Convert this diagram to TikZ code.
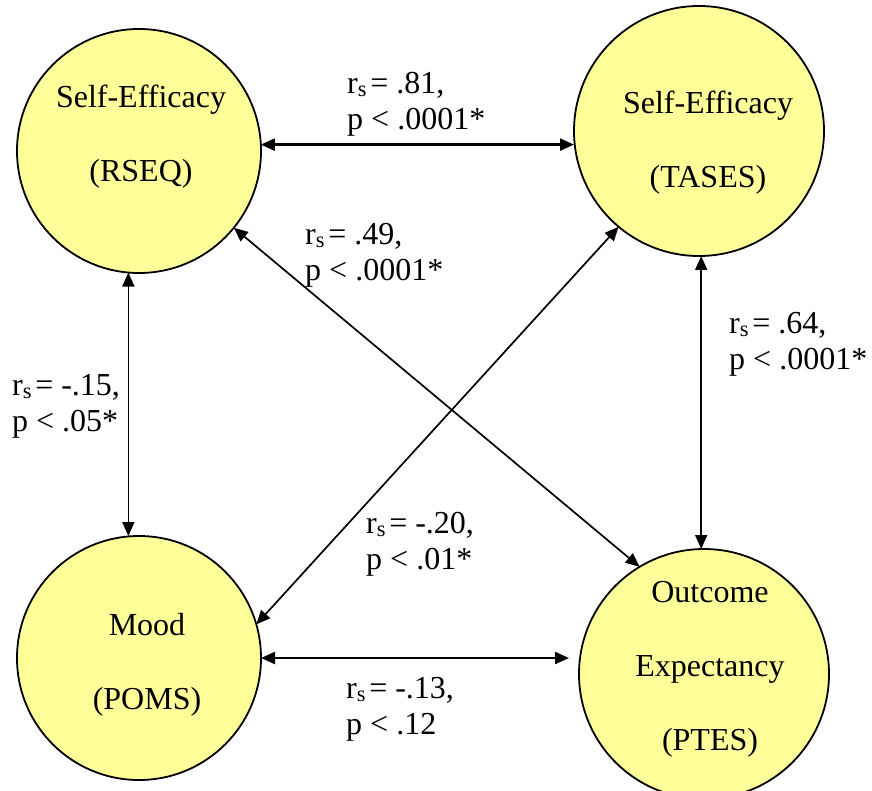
\documentclass[tikz,border=0pt]{standalone}
\usepackage{fontspec}
\setmainfont{Liberation Serif}
\usetikzlibrary{arrows.meta}
\definecolor{constructfill}{HTML}{FFFF99}
\newcommand{\rsub}{r\textsubscript{s}\hspace{0.1em}=}
\tikzset{
  construct/.style={circle, draw=black, line width=1.8pt, fill=constructfill,
    inner sep=0pt, outer sep=0pt, minimum size=#1},
  conname/.style={anchor=base, inner sep=0pt, font=\fontsize{32}{74}\selectfont},
  stat/.style={anchor=base west, inner sep=0pt, font=\fontsize{32}{36}\selectfont},
  corr/.style={{Triangle[length=14pt,width=12pt]}-{Triangle[length=14pt,width=12pt]},
    line width=1.7pt},
  corrbold/.style={corr, line width=2.3pt},
}
\begin{document}
\begin{tikzpicture}[x=1pt, y=-1pt]
\useasboundingbox (0,0) rectangle (872,790);

% the four constructs
\node[construct=244pt] (rseq)  at (139,151) {};
\node[construct=250pt] (tases) at (699,131) {};
\node[construct=244pt] (poms)  at (139,658) {};
\node[construct=250pt] (ptes)  at (704,674) {};

\node[conname] (rseqname)  at (141,107) {\begin{tabular}[t]{@{}c@{}}Self-Efficacy\\(RSEQ)\end{tabular}};
\node[conname] (tasesname) at (708,113) {\begin{tabular}[t]{@{}c@{}}Self-Efficacy\\(TASES)\end{tabular}};
\node[conname] (pomsname)  at (147,635) {\begin{tabular}[t]{@{}c@{}}Mood\\(POMS)\end{tabular}};
\node[conname] (ptesname)  at (710,602) {\begin{tabular}[t]{@{}c@{}}Outcome\\Expectancy\\(PTES)\end{tabular}};

% correlations between constructs
\draw[corrbold] (rseq.3.3) -- (rseq.3.3 -| tases.west);
\draw[corr] (rseq.265.3) -- (rseq.265.3 |- poms.north);
\draw[corr] (tases.271.8) -- (tases.271.8 |- ptes.north);
\draw[corrbold] (poms.east) -- ([xshift=-10pt]poms.east -| ptes.west);
\draw[corr] (rseq.-39.3) -- (ptes.121.6);
\draw[corr] (tases.230.4) -- (poms.16.8);

% coefficients
\node[stat] (s81) at (347,93)  {\begin{tabular}[t]{@{}l@{}}\rsub{} .81,\\p < .0001*\end{tabular}};
\node[stat] (s49) at (305,244) {\begin{tabular}[t]{@{}l@{}}\rsub{} .49,\\p < .0001*\end{tabular}};
\node[stat] (s64) at (729,333) {\begin{tabular}[t]{@{}l@{}}\rsub{} .64,\\p < .0001*\end{tabular}};
\node[stat] (s15) at (12,395)  {\begin{tabular}[t]{@{}l@{}}\rsub{} -.15,\\p < .05*\end{tabular}};
\node[stat] (s20) at (366,533) {\begin{tabular}[t]{@{}l@{}}\rsub{} -.20,\\p < .01*\end{tabular}};
\node[stat] (s13) at (346,698) {\begin{tabular}[t]{@{}l@{}}\rsub{} -.13,\\p < .12\end{tabular}};
\end{tikzpicture}
\end{document}
